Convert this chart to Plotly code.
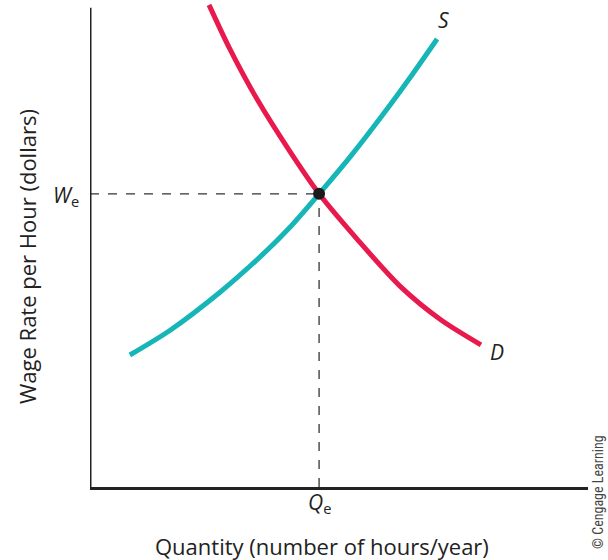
import plotly.graph_objects as go

# Data (abstract units; x: quantity, y: wage rate)
supply_x = [0.80, 1.61, 2.61, 3.41, 4.02, 4.60, 5.24, 5.92, 6.45, 6.97]
supply_y = [2.71, 3.22, 4.00, 4.72, 5.34, 6.02, 6.80, 7.70, 8.44, 9.20]
demand_x = [2.39, 2.81, 3.35, 4.02, 4.60, 5.38, 6.24, 7.05, 7.85]
demand_y = [9.90, 8.99, 7.97, 6.88, 6.02, 5.07, 4.11, 3.43, 2.92]
eq_x, eq_y = 4.60, 6.02

teal = "#16B5B8"
red = "#E8194C"
font = "Open Sans, Lato, sans-serif"

# plot area geometry (pixels)
L, R, T, B = 90, 20, 0, 73
W, H = 608, 560
PW, PH = W - L - R, H - T - B


def px(x):
    return (x - L) / PW


def py(y):
    return (H - B - y) / PH


fig = go.Figure()
fig.add_trace(go.Scatter(x=supply_x, y=supply_y, mode="lines",
                         line=dict(color=teal, width=5, shape="spline", smoothing=0.8),
                         hoverinfo="skip", showlegend=False))
fig.add_trace(go.Scatter(x=demand_x, y=demand_y, mode="lines",
                         line=dict(color=red, width=5, shape="spline", smoothing=0.8),
                         hoverinfo="skip", showlegend=False))
fig.add_trace(go.Scatter(x=[eq_x], y=[eq_y], mode="markers",
                         marker=dict(color="#1a1a1a", size=12),
                         hoverinfo="skip", showlegend=False))

# dashed guide lines
fig.add_shape(type="line", x0=0, y0=eq_y, x1=eq_x, y1=eq_y,
              line=dict(color="#333", width=1.3, dash="dash"), layer="below")
fig.add_shape(type="line", x0=eq_x, y0=0, x1=eq_x, y1=eq_y,
              line=dict(color="#333", width=1.3, dash="dash"), layer="below")
# y-axis line
fig.add_shape(type="line", x0=0, y0=0, x1=0, y1=9.84,
              line=dict(color="#222", width=3))

fig.update_layout(
    width=W, height=H,
    margin=dict(l=L, r=R, t=T, b=B),
    plot_bgcolor="white", paper_bgcolor="white",
    xaxis=dict(range=[0, 10], showgrid=False, zeroline=False, showticklabels=False,
               ticks="", showline=True, linecolor="#222", linewidth=3),
    yaxis=dict(range=[0, 10], showgrid=False, zeroline=False, showticklabels=False,
               ticks="", showline=False),
    font=dict(family=font, color="#222"),
)

ann = [
    dict(x=px(66), y=py(196), text="<i>W</i><sub>e</sub>", font=dict(size=21)),
    dict(x=px(319), y=py(503), text="<i>Q</i><sub>e</sub>", font=dict(size=21)),
    dict(x=px(443), y=py(20), text="<i>S</i>", font=dict(size=21)),
    dict(x=px(497), y=py(352), text="<i>D</i>", font=dict(size=21)),
    dict(x=px(27), y=py(257), text="Wage Rate per Hour (dollars)", textangle=-90,
         font=dict(size=22)),
    dict(x=px(322), y=py(546), text="Quantity (number of hours/year)", font=dict(size=22)),
    dict(x=px(598), y=py(492), text="© Cengage Learning", textangle=-90,
         font=dict(size=14, family="Liberation Sans Narrow, Roboto Condensed, sans-serif",
                   color="#444")),
]
for a in ann:
    a.update(xref="paper", yref="paper", showarrow=False,
             xanchor="center", yanchor="middle")
fig.update_layout(annotations=ann)

fig.write_html("out.html", config={"displayModeBar": False},
               post_script="document.body.style.margin='0';")
